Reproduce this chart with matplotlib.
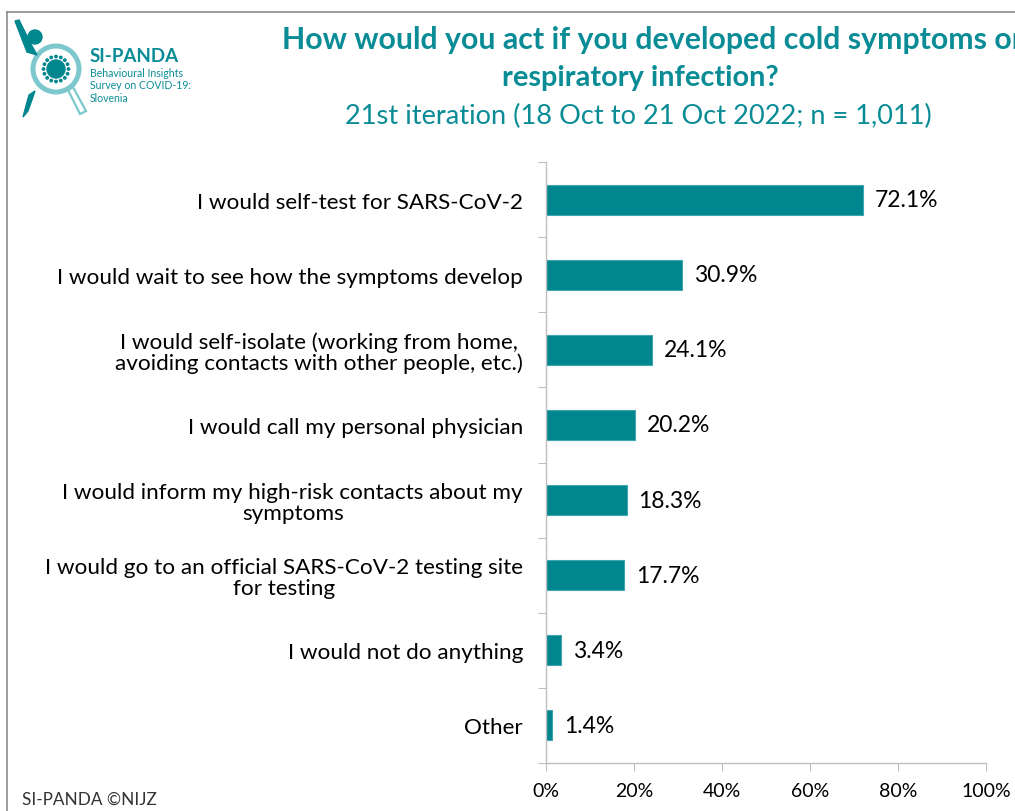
import matplotlib
matplotlib.use("Agg")
import matplotlib.pyplot as plt
from matplotlib.patches import Circle, Polygon
from matplotlib.lines import Line2D
import numpy as np

categories = [
    "I would self-test for SARS-CoV-2",
    "I would wait to see how the symptoms develop",
    "I would self-isolate (working from home,\navoiding contacts with other people, etc.)",
    "I would call my personal physician",
    "I would inform my high-risk contacts about my\nsymptoms",
    "I would go to an official SARS-CoV-2 testing site\nfor testing",
    "I would not do anything",
    "Other",
]
values = [72.1, 30.9, 24.1, 20.2, 18.3, 17.7, 3.4, 1.4]
x_ticks = [0, 20, 40, 60, 80, 100]
x_tick_labels = ["0%", "20%", "40%", "60%", "80%", "100%"]

title_line1 = "How would you act if you developed cold symptoms or"
title_line2 = "respiratory infection?"
subtitle = "21st iteration (18 Oct to 21 Oct 2022; n = 1,011)"
footer = "SI-PANDA ©NIJZ"

TEAL = "#00868F"
TEAL_EDGE = "#3FA6AE"
TEXT_TEAL = "#0A8C96"
GRAY = "#BFBFBF"
FONT = ["Lato", "DejaVu Sans"]

plt.rcParams["font.family"] = FONT

W, H = 1015, 812
fig = plt.figure(figsize=(W / 100, H / 100), dpi=100)

def fx(px):
    return px / W

def fy(py):
    return 1 - py / H

ax = fig.add_axes([fx(546), fy(764), fx(986) - fx(546), fy(163) - fy(764)])

pos = np.arange(len(categories))
ax.barh(pos, values, height=0.4, color=TEAL, edgecolor=TEAL_EDGE, linewidth=0.8)
ax.set_xlim(0, 100)
ax.set_ylim(len(categories) - 0.5, -0.5)

for p, v in zip(pos, values):
    ax.text(v + 2.7, p, f"{v:.1f}%", va="center", ha="left", fontsize=16.5, color="black")

# boundary ticks on the category axis, labels centred between them
ax.set_yticks(np.arange(-0.5, len(categories), 1.0))
ax.set_yticklabels([])
ax.set_yticks(pos, minor=True)
ax.set_yticklabels(categories, minor=True, fontsize=16.2, ha="right", linespacing=1.05)
for lbl in ax.get_yticklabels(minor=True):
    lbl.set_multialignment("center")
ax.tick_params(axis="y", which="major", length=6, color=GRAY, direction="out")
ax.tick_params(axis="y", which="minor", length=0, pad=16.5)

ax.set_xticks(x_ticks)
ax.set_xticklabels(x_tick_labels, fontsize=14)
ax.tick_params(axis="x", length=6, color=GRAY, direction="out", pad=8)

for side in ("top", "right"):
    ax.spines[side].set_visible(False)
for side in ("left", "bottom"):
    ax.spines[side].set_color(GRAY)
    ax.spines[side].set_linewidth(1.0)

# titles
fig.text(fx(282), fy(40), title_line1, ha="left", va="center", fontsize=21.8,
         fontweight="bold", color=TEXT_TEAL)
fig.text(fx(640), fy(78), title_line2, ha="center", va="center", fontsize=20.8,
         fontweight="bold", color=TEXT_TEAL)
fig.text(fx(638), fy(116), subtitle, ha="center", va="center", fontsize=19.6,
         color=TEXT_TEAL)

# footer
fig.text(fx(22), fy(800), footer, ha="left", va="center", fontsize=12.3, color="#333333")

# frame lines
fig.add_artist(Line2D([fx(7), 1], [fy(13), fy(13)], color="#8C8C8C", linewidth=1.2))
fig.add_artist(Line2D([fx(7), fx(7)], [fy(13), 0], color="#8C8C8C", linewidth=1.2))

# logo: magnifier with virus and figure
logo_ax = fig.add_axes([fx(14), fy(122), fx(210) - fx(14), fy(18) - fy(122)])
logo_ax.set_xlim(14, 210)
logo_ax.set_ylim(122, 18)
logo_ax.set_aspect("equal")
logo_ax.axis("off")

LIGHT = "#7CC8CD"
logo_ax.add_patch(Circle((56, 70), 23, fill=False, edgecolor=LIGHT, linewidth=3.6))
logo_ax.add_patch(Polygon([[68, 91], [73, 88], [86, 112], [80, 115]], closed=True,
                          facecolor="none", edgecolor=LIGHT, linewidth=1.6))
logo_ax.add_patch(Circle((35, 38), 7, color=TEAL))
logo_ax.add_patch(Polygon([[15, 22], [19, 21], [32, 47], [37, 56], [27, 53]], closed=True,
                          color=TEAL))
logo_ax.add_patch(Polygon([[35, 92], [28, 112], [23, 118], [29, 96]], closed=True,
                          color=TEAL))
logo_ax.add_patch(Circle((56, 70), 9, color=TEAL))
for ang in np.linspace(0, 2 * np.pi, 16, endpoint=False):
    logo_ax.add_patch(Circle((56 + 12.5 * np.cos(ang), 70 + 12.5 * np.sin(ang)), 1.2,
                             color=TEAL))
logo_ax.text(90, 57, "SI-PANDA", fontsize=13.5, fontweight="bold", color=TEXT_TEAL,
             ha="left", va="center")
logo_ax.text(90, 68, "Behavioural Insights\nSurvey on COVID-19:\nSlovenia", fontsize=7.6,
             color=TEXT_TEAL, ha="left", va="top", linespacing=1.15)

fig.savefig("out.png", dpi=100)
